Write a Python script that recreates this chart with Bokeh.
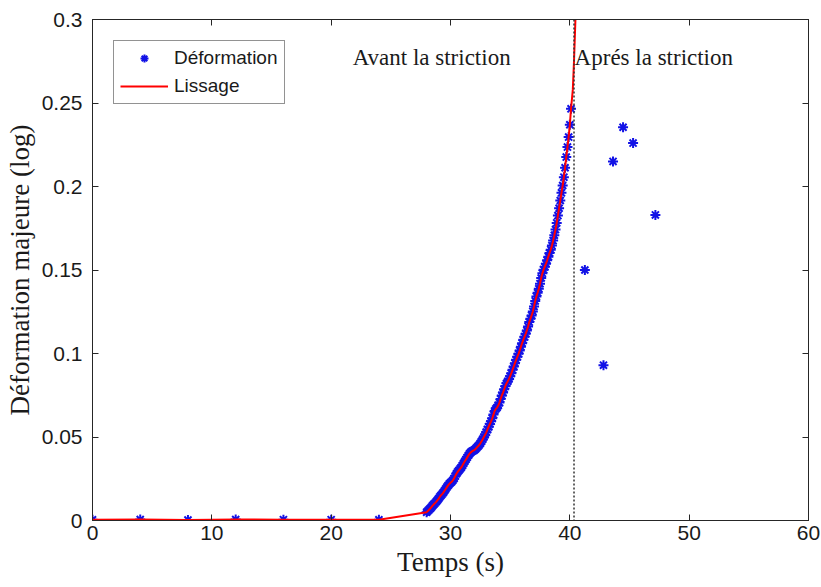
from bokeh.plotting import figure
from bokeh.models import LinearAxis, FixedTicker, Span, Legend, LegendItem, Range1d
from bokeh.core.properties import value
from bokeh.embed import file_html
from bokeh.resources import INLINE

# ---------------- data ----------------
flat_t = [0, 4, 8, 12, 16, 20, 24]
flat_y = [0.0004, 0.0006, 0.0003, 0.0006, 0.0005, 0.0005, 0.0004]

dense_t = [28.0, 28.1, 28.2, 28.3, 28.4, 28.5, 28.6, 28.7, 28.8, 28.9,
           29.0, 29.1, 29.2, 29.3, 29.4, 29.5, 29.6, 29.7, 29.8, 29.9,
           30.0, 30.1, 30.2, 30.3, 30.4, 30.5, 30.6, 30.7, 30.8, 30.9,
           31.0, 31.1, 31.2, 31.3, 31.4, 31.5, 31.6, 31.7, 31.8, 31.9,
           32.0, 32.1, 32.2, 32.3, 32.4, 32.5, 32.6, 32.7, 32.8, 32.9,
           33.0, 33.1, 33.2, 33.3, 33.4, 33.5, 33.6, 33.7, 33.8, 33.9,
           34.0, 34.1, 34.2, 34.3, 34.4, 34.5, 34.6, 34.7, 34.8, 34.9,
           35.0, 35.1, 35.2, 35.3, 35.4, 35.5, 35.6, 35.7, 35.8, 35.9,
           36.0, 36.1, 36.2, 36.3, 36.4, 36.5, 36.6, 36.7, 36.8, 36.9,
           37.0, 37.1, 37.2, 37.3, 37.4, 37.5, 37.6, 37.7, 37.8, 37.9,
           38.0, 38.1, 38.2, 38.3, 38.4, 38.5, 38.6, 38.7, 38.8, 38.9,
           39.0, 39.1, 39.2, 39.3, 39.4, 39.5, 39.6, 39.7, 39.8, 39.9,
           40.0, 40.1]
dense_y = [0.0050, 0.0057, 0.0064, 0.0072, 0.0080, 0.0089, 0.0097, 0.0104, 0.0112, 0.0121,
           0.0130, 0.0141, 0.0150, 0.0158, 0.0167, 0.0178, 0.0189, 0.0200, 0.0210, 0.0219,
           0.0226, 0.0232, 0.0241, 0.0252, 0.0266, 0.0280, 0.0291, 0.0300, 0.0309, 0.0318,
           0.0330, 0.0343, 0.0355, 0.0366, 0.0378, 0.0390, 0.0400, 0.0408, 0.0414, 0.0418,
           0.0422, 0.0428, 0.0436, 0.0444, 0.0452, 0.0462, 0.0474, 0.0487, 0.0500, 0.0513,
           0.0528, 0.0545, 0.0562, 0.0578, 0.0594, 0.0612, 0.0634, 0.0656, 0.0668, 0.0676,
           0.0688, 0.0706, 0.0728, 0.0748, 0.0766, 0.0786, 0.0806, 0.0822, 0.0834, 0.0848,
           0.0864, 0.0882, 0.0902, 0.0922, 0.0942, 0.0962, 0.0980, 0.0998, 0.1018, 0.1040,
           0.1062, 0.1082, 0.1100, 0.1118, 0.1138, 0.1162, 0.1188, 0.1208, 0.1228, 0.1252,
           0.1282, 0.1315, 0.1342, 0.1364, 0.1388, 0.1418, 0.1452, 0.1480, 0.1502, 0.1520,
           0.1538, 0.1558, 0.1580, 0.1602, 0.1622, 0.1646, 0.1676, 0.1708, 0.1742, 0.1782,
           0.1826, 0.1870, 0.1916, 0.1962, 0.2006, 0.2056, 0.2112, 0.2176, 0.2236, 0.2296,
           0.2370, 0.2465]

after_t = [41.26, 42.82, 43.62, 44.46, 45.30, 47.17]
after_y = [0.150, 0.093, 0.215, 0.2355, 0.226, 0.183]

# smoothing curve extension beyond the last measured point
fit_ext_t = [40.25, 40.35, 40.45, 40.55]
fit_ext_y = [0.258, 0.275, 0.296, 0.318]

striction_t = 40.35

annot_t = [21.8, 40.4]
annot_y = [0.2775, 0.2775]
annot_text = ["Avant la striction", "Aprés la striction"]

x_ticks = [0, 10, 20, 30, 40, 50, 60]
x_tick_labels = ["0", "10", "20", "30", "40", "50", "60"]
y_ticks = [0, 0.05, 0.1, 0.15, 0.2, 0.25, 0.3]
y_tick_labels = ["0", "0.05", "0.1", "0.15", "0.2", "0.25", "0.3"]

# ---------------- figure ----------------
SANS = "Liberation Sans"
SERIF = "Liberation Serif"
AX = "#262626"

p = figure(width=821, height=587, output_backend="svg", toolbar_location=None,
           x_range=Range1d(0, 60), y_range=Range1d(0, 0.3),
           min_border_left=92, min_border_right=13, min_border_top=19, min_border_bottom=67)
p.xgrid.visible = False
p.ygrid.visible = False
p.outline_line_color = AX
p.outline_line_width = 1
p.background_fill_color = "white"
p.border_fill_color = "white"

for ax in (p.xaxis[0], p.yaxis[0]):
    ax.major_tick_in = 6
    ax.major_tick_out = 0
    ax.minor_tick_line_color = None
    ax.axis_line_color = AX
    ax.major_tick_line_color = AX
    ax.major_label_text_font = SANS
    ax.major_label_text_font_size = "21px"
    ax.major_label_text_color = "#1a1a1a"
    ax.axis_label_text_font = SERIF
    ax.axis_label_text_font_size = "27px"
    ax.axis_label_text_font_style = "normal"
    ax.axis_label_text_color = "#1a1a1a"

p.xaxis.ticker = FixedTicker(ticks=x_ticks)
p.xaxis.major_label_overrides = dict(zip(x_ticks, x_tick_labels))
p.yaxis.ticker = FixedTicker(ticks=y_ticks)
p.yaxis.major_label_overrides = dict(zip(y_ticks, y_tick_labels))
p.xaxis.axis_label = "Temps (s)"
p.yaxis.axis_label = "Déformation majeure (log)"
p.xaxis.major_label_standoff = 5
p.xaxis.axis_label_standoff = 4
p.yaxis.major_label_standoff = 10
p.yaxis.axis_label_standoff = 4

# mirrored tick marks on top and right (no labels)
top = LinearAxis(ticker=FixedTicker(ticks=x_ticks),
                 major_label_overrides={t: "" for t in x_ticks},
                 major_tick_in=6, major_tick_out=0, minor_tick_line_color=None,
                 axis_line_color=AX, major_tick_line_color=AX, major_label_standoff=0)
right = LinearAxis(ticker=FixedTicker(ticks=y_ticks),
                   major_label_overrides={t: "" for t in y_ticks},
                   major_tick_in=6, major_tick_out=0, minor_tick_line_color=None,
                   axis_line_color=AX, major_tick_line_color=AX, major_label_standoff=0)
p.add_layout(top, "above")
p.add_layout(right, "right")

# striction line
p.add_layout(Span(location=striction_t, dimension="height", line_color="#333333",
                  line_width=1.5, line_dash="2 2"))

# data
deform_t = flat_t + dense_t + after_t
deform_y = flat_y + dense_y + after_y
lis_t = flat_t + dense_t + fit_ext_t
lis_y = flat_y + dense_y + fit_ext_y

r_pts = p.scatter(deform_t, deform_y, marker="asterisk", size=10, line_color="#1212e6",
                  line_width=2)
r_line = p.line(lis_t, lis_y, line_color="#ff0000", line_width=2)

p.text(x=annot_t, y=annot_y, text=annot_text, text_font=value(SERIF),
       text_font_size="23px", text_baseline="middle", text_align="left",
       text_color="#1a1a1a")

legend = Legend(items=[LegendItem(label="Déformation", renderers=[r_pts]),
                       LegendItem(label="Lissage", renderers=[r_line])],
                location="top_left", margin=21, padding=6, spacing=6,
                glyph_width=48, glyph_height=20, label_height=20, label_standoff=6,
                label_text_font=SANS, label_text_font_size="19px",
                label_text_color="#1a1a1a",
                border_line_color=AX, border_line_width=1,
                background_fill_color="white", background_fill_alpha=1)
p.add_layout(legend, "center")

open("out.html", "w").write(file_html(p, INLINE))
